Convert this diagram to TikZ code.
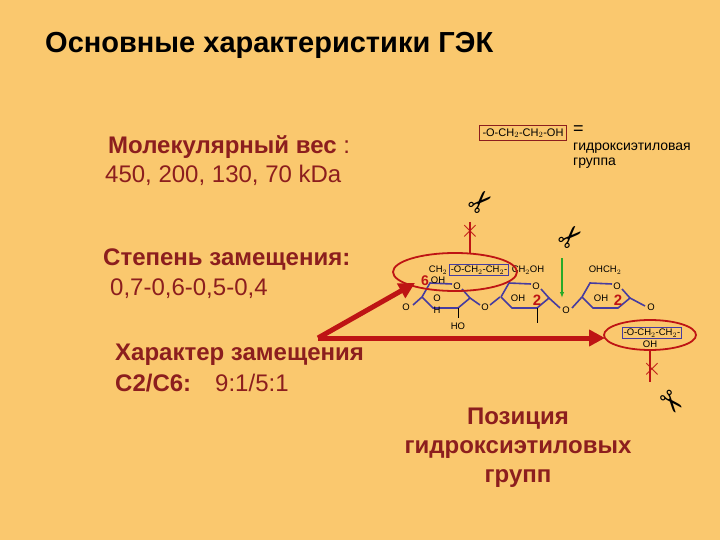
\documentclass[tikz,border=0pt]{standalone}
\usepackage{fontspec}
\setmainfont{Liberation Sans}
\newfontfamily\dejavu{DejaVu Sans}
\usetikzlibrary{arrows.meta}
\definecolor{bg}{RGB}{250,200,110}
\definecolor{dred}{RGB}{190,20,20}
\definecolor{dtext}{RGB}{140,30,30}
\definecolor{ring}{RGB}{70,60,160}
\definecolor{gline}{RGB}{40,170,40}
\begin{document}
\begin{tikzpicture}[x=1pt,y=-1pt,
  lbl/.style={inner sep=0pt,font=\fontsize{9.5}{10}\selectfont},
  big/.style={inner sep=0pt,anchor=west,font=\fontsize{24}{26}\selectfont},
  bigb/.style={big,font=\bfseries\fontsize{24}{26}\selectfont},
  sc/.style={inner sep=0pt,font=\dejavu\fontsize{30}{30}\selectfont},
  bond/.style={ring,line width=1.6pt},
  redline/.style={dred,line width=5pt},
  thinred/.style={dred,line width=1.5pt}]
\fill[bg] (0,0) rectangle (720,540);
\useasboundingbox (0,0) rectangle (720,540);
\node[inner sep=0pt,anchor=west,font=\bfseries\fontsize{29}{32}\selectfont] (title) at (45,45) {Основные характеристики ГЭК};
\node[bigb,text=dtext] (mw) at (108,147) {Молекулярный вес \mdseries:};
\node[big,text=dtext] (mwv) at (105,175) {450, 200, 130, 70 kDa};
\node[bigb,text=dtext] (ds) at (103,260) {Степень замещения:};
\node[big,text=dtext] (dsv) at (110,289) {0,7-0,6-0,5-0,4};
\node[bigb,text=dtext] (ch) at (115,355) {Характер замещения};
\node[big,text=dtext] (chv) at (115,383) {\textbf{C2/C6:}\quad 9:1/5:1};
\node[inner sep=0pt,align=center,text=dtext,font=\bfseries\fontsize{24}{29}\selectfont] (pos) at (518,448) {Позиция\\гидроксиэтиловых\\групп};
% legend
\node[draw=dtext,line width=0.8pt,inner sep=3pt,font=\fontsize{11}{12}\selectfont] (leg) at (523,133) {-O-CH$_2$-CH$_2$-OH};
\node[inner sep=0pt,anchor=west,font=\fontsize{18}{18}\selectfont] (eq) at (573,130) {=};
\node[inner sep=0pt,anchor=north west,align=left,font=\fontsize{14}{15}\selectfont] (legt) at (573,143) {гидроксиэтиловая\\группа};
% rings
\foreach \dx/\nm in {0/a,79/b,160/c}{
  \draw[bond] (422+\dx,297) -- (430+\dx,283) -- (452+\dx,284);
  \draw[bond] (462+\dx,289) -- (470+\dx,298) -- (458+\dx,308) -- (433+\dx,308) -- (422+\dx,297);
  \node[lbl] (o\nm) at (457+\dx,286) {O};
}
\draw[bond] (470,298) -- (480,305);
\draw[bond] (490,305) -- (500,297);
\draw[bond] (549,298) -- (560,308);
\draw[bond] (572,308) -- (582,297);
\draw[bond] (630,298) -- (645,306);
\draw[bond] (422,297) -- (413,305);
\draw[black,line width=1pt] (537,308) -- (537,323);
\draw[black,line width=0.8pt] (458,308) -- (458,318);
\node[lbl] (o1) at (406,307) {O};
\node[lbl] (o2) at (485,307) {O};
\node[lbl] (o3) at (566,310) {O};
\node[lbl] (o4) at (651,307) {O};
\node[lbl] (ho) at (458,326) {HO};
\node[lbl] (oha) at (437,298) {O};
\node[lbl] (ha) at (437,310) {H};
\node[lbl] (ohb) at (518,298) {OH};
\node[lbl] (ohc) at (601,298) {OH};
\node[lbl,text=dred,font=\bfseries\fontsize{15}{15}\selectfont] (two1) at (537,300) {2};
\node[lbl,text=dred,font=\bfseries\fontsize{15}{15}\selectfont] (two2) at (618,300) {2};
\node[lbl,text=dred,font=\bfseries\fontsize{14}{14}\selectfont] (six) at (425,281) {6};
\node[lbl] (ohsix) at (438,280) {OH};
\node[lbl] (ch2a) at (438,270) {CH$_2$};
\node[lbl,draw=ring,line width=0.8pt,inner sep=1.5pt] (boxa) at (479,270) {-O-CH$_2$-CH$_2$-};
\node[lbl] (ch2oh) at (528,270) {CH$_2$OH};
\node[lbl] (ohch2) at (605,270) {OHCH$_2$};
\node[lbl,draw=ring,line width=0.8pt,inner sep=1.5pt] (boxb) at (652,333) {-O-CH$_2$-CH$_2$-};
\node[lbl] (ohb2) at (650,344) {OH};
% ellipses
\draw[dred,line width=1.8pt] (455,272) ellipse (62 and 19);
\draw[dred,line width=1.8pt] (650,335) ellipse (46 and 15);
% arrows
\coordinate (st) at (318,338);
\draw[redline,-{Triangle[length=16pt,width=16pt]}] (st) -- (415,283);
\draw[redline,-{Triangle[length=16pt,width=16pt]}] (st) -- (605,338);
\draw[gline,line width=1.5pt,-{Latex[length=6pt]}] (562,258) -- (562,298);
% top scissors
\draw[thinred] (470,222) -- (470,253);
\node[lbl,text=dred,font=\fontsize{26}{26}\selectfont] (x1) at (470,231) {$\times$};
\node[sc,rotate=45] (s1) at (482,203) {✂};
\node[sc,rotate=45] (s2) at (572,238) {✂};
% bottom
\draw[thinred] (650,350) -- (650,382);
\node[lbl,text=dred,font=\fontsize{26}{26}\selectfont] (x2) at (652,369) {$\times$};
\node[sc,rotate=-50] (s3) at (670,403) {✂};
\end{tikzpicture}
\end{document}
